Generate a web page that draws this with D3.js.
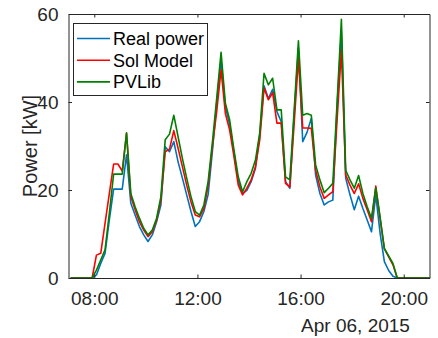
<!DOCTYPE html>
<html><head><meta charset="utf-8">
<script src="https://cdn.jsdelivr.net/npm/d3@7"></script>
<style>html,body{margin:0;padding:0;background:#fff;}svg{display:block;}</style>
</head><body>
<script>
// ---- data ----
const startTime = "2015-04-06T07:05:00";
const stepMinutes = 10;
const realPower = [0,0,0,0,0,0,0.7,3.3,5.6,13.2,20.2,20.2,20.2,28.0,17.0,14.3,11.7,9.8,8.3,9.8,12.8,16.6,29.8,28.7,31.0,26.4,22.7,18.9,15.1,11.7,12.8,15.1,19,29,40,49.5,38.9,34.8,28.5,22,19.2,19.9,21.9,24.9,32.5,43.7,40.8,42.9,37.8,35.5,21.9,20.4,37,52.2,31,33.1,36.3,23.4,19.2,16.6,17.3,17.7,39,56,22.7,18.9,15.5,18.6,15.8,13.2,10.5,18.9,10.2,3.7,1.7,0.4,0,0,0,0,0,0,0,0,0];
const solModel = [0,0,0,0,0,0,5.2,5.6,12.4,19.2,25.9,25.9,24.3,32.9,18.5,15.5,12.8,10.9,9.4,10.5,13.2,17.7,28.7,29.3,33.5,29.5,25.3,21.1,17.3,14.3,13.9,15.8,21,30,38,47.3,37.4,33.6,27.6,21.1,18.9,20.4,22.3,25.3,31.4,43.2,40.5,42.1,35.2,35.2,21.5,20.7,35,49.9,34.1,34.1,34,24.5,20.7,18.1,18.9,19.6,36,51.8,23.4,21.1,19.2,21.4,18.1,15.5,12.8,20.9,13.5,6.6,4.8,3.0,0,0,0,0,0,0,0,0,0];
const pvLib = [0,0,0,0,0,0,1.8,4.1,6.4,14.7,23.6,23.6,23.6,33.0,19.2,16.2,13.6,11.3,9.8,10.9,13.6,18.5,31.4,32.7,37.0,32.1,27.2,22.7,18.5,15.1,14.3,16.6,22,31,41,51.3,39.7,35.9,29.1,23,19.6,21.9,23.8,26.8,33,46.5,43.9,45.4,38.2,38.2,23,22.3,38,53.9,37,37.4,37,25.7,22.3,19.4,20.4,21.5,40,58.8,24.5,22.3,20.4,23.3,19.2,16.2,13.6,20.5,13.9,6.7,5.0,3.3,0,0,0,0,0,0,0,0,0];
const seriesNames = ["Real power","Sol Model","PVLib"];
const seriesColors = ["#0072BD","#FF0000","#008000"];
const xTickLabels = ["08:00","12:00","16:00","20:00"];
const yTicks = [0,20,40,60];
const xDomain = ["2015-04-06T07:00:00","2015-04-06T21:00:00"];
const dateLabel = "Apr 06, 2015";
const yLabel = "Power [kW]";

// ---- build ----
const W = 438, H = 338;
const L = 68.5, R = 429.5, T = 14, B = 278;
const parse = d3.isoParse;
const t0 = parse(startTime);
const times = realPower.map((_, i) => d3.timeMinute.offset(t0, i * stepMinutes));
const x = d3.scaleTime().domain(xDomain.map(parse)).range([L, R]);
const y = d3.scaleLinear().domain([0, 60]).range([B, T]);

const svg = d3.select("body").append("svg").attr("width", W).attr("height", H)
  .style("font-family", "'Liberation Sans', Arial, Helvetica, sans-serif");

const axisColor = "#262626";
const xTickVals = xTickLabels.map(s => parse("2015-04-06T" + s + ":00"));

// clip
svg.append("clipPath").attr("id", "clip").append("rect")
  .attr("x", L).attr("y", T).attr("width", R - L).attr("height", B - T);

// lines
const allSeries = [realPower, solModel, pvLib];
const line = d3.line().x((d, i) => x(times[i])).y(d => y(d));
const gLines = svg.append("g").attr("clip-path", "url(#clip)");
allSeries.forEach((s, j) => {
  gLines.append("path").datum(s).attr("d", line)
    .attr("fill", "none").attr("stroke", seriesColors[j])
    .attr("stroke-width", 1.6).attr("stroke-linejoin", "round");
});

// axes (MATLAB-style box with inner ticks)
const fmt = d3.timeFormat("%H:%M");
const tickLen = 3.5;
const xb = svg.append("g").attr("transform", `translate(0,${B})`)
  .call(d3.axisBottom(x).tickValues(xTickVals).tickFormat(fmt).tickSizeInner(-tickLen).tickSizeOuter(0).tickPadding(14));
const xt = svg.append("g").attr("transform", `translate(0,${T})`)
  .call(d3.axisTop(x).tickValues(xTickVals).tickFormat("").tickSizeInner(-tickLen).tickSizeOuter(0));
const yl = svg.append("g").attr("transform", `translate(${L},0)`)
  .call(d3.axisLeft(y).tickValues(yTicks).tickSizeInner(-tickLen).tickSizeOuter(0).tickPadding(10));
const yr = svg.append("g").attr("transform", `translate(${R},0)`)
  .call(d3.axisRight(y).tickValues(yTicks).tickFormat("").tickSizeInner(-tickLen).tickSizeOuter(0));
[xb, xt, yl, yr].forEach(g => {
  g.selectAll("path.domain").attr("stroke", axisColor).attr("stroke-width", 1);
  g.selectAll("line").attr("stroke", axisColor);
  g.selectAll("text").attr("fill", axisColor).style("font-size", "19px")
    .style("font-family", "'Liberation Sans', Arial, Helvetica, sans-serif");
});

// date label
svg.append("text").attr("x", 355.5).attr("y", 332).attr("text-anchor", "middle")
  .attr("fill", axisColor).style("font-size", "19px").text(dateLabel);

// y label
svg.append("text").attr("transform", `translate(37,${(T + B) / 2}) rotate(-90)`)
  .attr("text-anchor", "middle").attr("fill", axisColor).style("font-size", "20px").text(yLabel);

// legend
const lg = svg.append("g");
lg.append("rect").attr("x", 73.5).attr("y", 23.5).attr("width", 134).attr("height", 72)
  .attr("fill", "#fff").attr("stroke", axisColor).attr("stroke-width", 1);
seriesNames.forEach((n, j) => {
  const yy = 38.5 + j * 21.7;
  lg.append("line").attr("x1", 77).attr("x2", 110).attr("y1", yy).attr("y2", yy)
    .attr("stroke", seriesColors[j]).attr("stroke-width", 1.6);
  lg.append("text").attr("x", 113).attr("y", yy).attr("dy", "0.35em")
    .attr("fill", "#000").style("font-size", "18px").text(n);
});
</script>
</body></html>
